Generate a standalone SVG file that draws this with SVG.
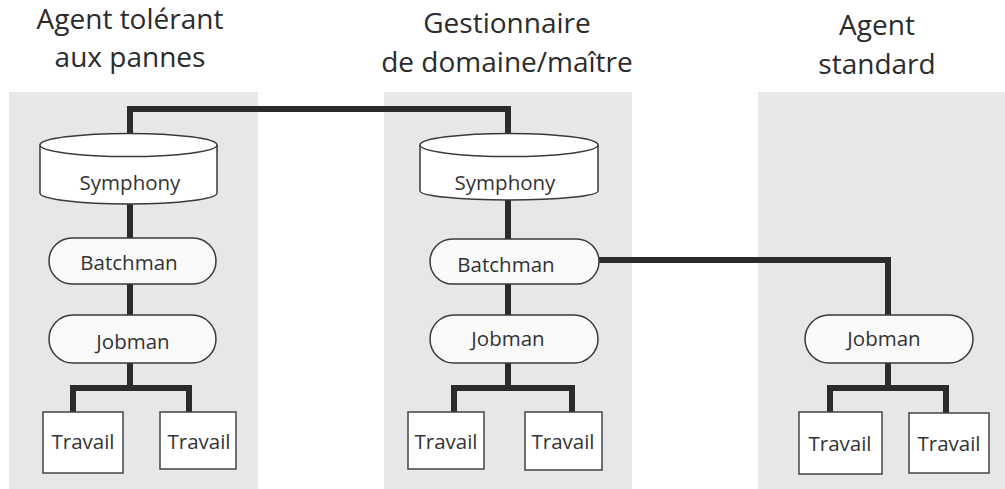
<svg xmlns="http://www.w3.org/2000/svg" width="1005" height="489" viewBox="0 0 1005 489">
  <style>
    .panel { fill: #e7e7e7; }
    .title { font-family: "Open Sans", "Noto Sans", sans-serif; font-size: 28px; fill: #2b2b2b; text-anchor: middle; }
    .label { font-family: "Open Sans", "Noto Sans", sans-serif; font-size: 20.5px; fill: #333333; text-anchor: middle; }
    .db { fill: #ffffff; stroke: #3a3a3a; stroke-width: 1.5; }
    .proc { fill: #fafafa; stroke: #3a3a3a; stroke-width: 1.5; }
    .job { fill: #ffffff; stroke: #444444; stroke-width: 1.5; }
    .link { fill: none; stroke: #2b2b2b; stroke-width: 6; stroke-linejoin: miter; stroke-linecap: butt; }
  </style>

  <!-- column backgrounds -->
  <g id="panels">
    <rect class="panel" x="9" y="92" width="249" height="397"/>
    <rect class="panel" x="384" y="92" width="248" height="397"/>
    <rect class="panel" x="758" y="92" width="247" height="397"/>
  </g>

  <!-- column headings -->
  <g id="titles">
    <text class="title" x="130" y="29">Agent tolérant</text>
    <text class="title" x="130" y="67">aux pannes</text>
    <text class="title" x="507" y="33">Gestionnaire</text>
    <text class="title" x="507" y="72">de domaine/maître</text>
    <text class="title" x="877" y="35">Agent</text>
    <text class="title" x="877" y="74">standard</text>
  </g>

  <!-- connectors -->
  <g id="connectors">
    <path class="link" d="M130 134 V109 H508 V133"/>
    <path class="link" d="M130 204 V238 M130 284 V315 M130 363 V388"/>
    <path class="link" d="M73 412 V388 H189 V412"/>
    <path class="link" d="M508 200 V239 M508 284 V315 M508 363 V388"/>
    <path class="link" d="M454 412 V388 H572 V412"/>
    <path class="link" d="M599 260 H888 V315"/>
    <path class="link" d="M888 363 V388"/>
    <path class="link" d="M830 412 V388 H946 V413"/>
  </g>

  <!-- fault-tolerant agent -->
  <g id="fta-symphony">
    <path class="db" d="M40 145 V193 A88.5 11 0 0 0 217 193 V145"/>
    <ellipse class="db" cx="128.5" cy="145" rx="88.5" ry="11.5"/>
    <text class="label" x="130" y="190">Symphony</text>
  </g>
  <g id="fta-batchman">
    <rect class="proc" x="49" y="238" width="167" height="46" rx="23"/>
    <text class="label" x="129" y="270">Batchman</text>
  </g>
  <g id="fta-jobman">
    <rect class="proc" x="49" y="315" width="167" height="48" rx="24"/>
    <text class="label" x="133" y="349">Jobman</text>
  </g>
  <g id="fta-job1">
    <rect class="job" x="43" y="412" width="80" height="61"/>
    <text class="label" x="83" y="449">Travail</text>
  </g>
  <g id="fta-job2">
    <rect class="job" x="160" y="412" width="76" height="57"/>
    <text class="label" x="199" y="449">Travail</text>
  </g>

  <!-- domain manager / master -->
  <g id="dm-symphony">
    <path class="db" d="M420 145 V191 A89 9 0 0 0 598 191 V145"/>
    <ellipse class="db" cx="509" cy="145" rx="89" ry="11.5"/>
    <text class="label" x="505" y="190">Symphony</text>
  </g>
  <g id="dm-batchman">
    <rect class="proc" x="430" y="239" width="169" height="45" rx="22.5"/>
    <text class="label" x="506" y="272">Batchman</text>
  </g>
  <g id="dm-jobman">
    <rect class="proc" x="430" y="315" width="168" height="48" rx="24"/>
    <text class="label" x="508" y="346">Jobman</text>
  </g>
  <g id="dm-job1">
    <rect class="job" x="408" y="412" width="76" height="57"/>
    <text class="label" x="446" y="449">Travail</text>
  </g>
  <g id="dm-job2">
    <rect class="job" x="525" y="412" width="77" height="58"/>
    <text class="label" x="563" y="449">Travail</text>
  </g>

  <!-- standard agent -->
  <g id="sa-jobman">
    <rect class="proc" x="805" y="315" width="168" height="48" rx="24"/>
    <text class="label" x="884" y="346">Jobman</text>
  </g>
  <g id="sa-job1">
    <rect class="job" x="799" y="412" width="83" height="62"/>
    <text class="label" x="840" y="451">Travail</text>
  </g>
  <g id="sa-job2">
    <rect class="job" x="909" y="413" width="80" height="60"/>
    <text class="label" x="949" y="451">Travail</text>
  </g>
</svg>
